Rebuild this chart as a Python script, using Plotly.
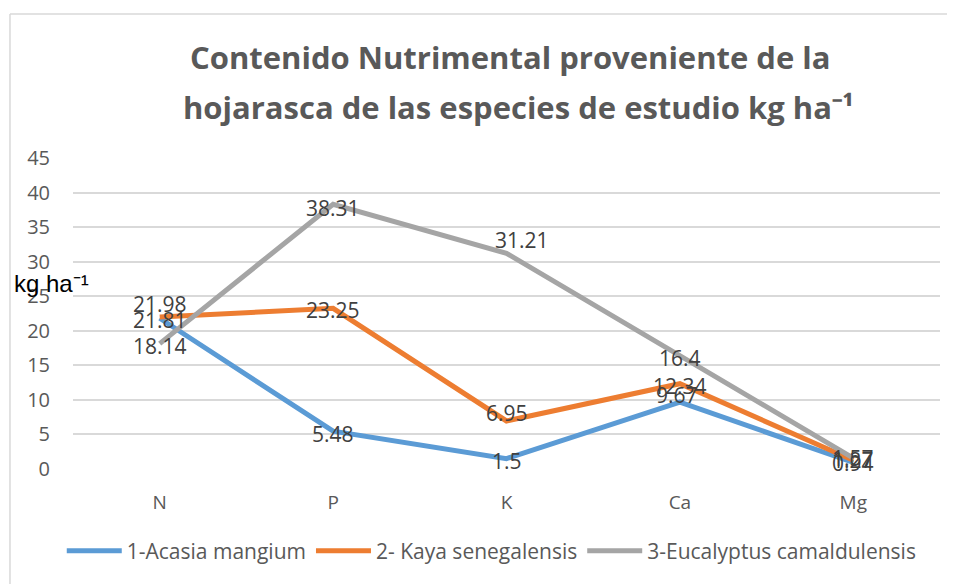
import plotly.graph_objects as go

categories = ["N", "P", "K", "Ca", "Mg"]
acasia = [21.81, 5.48, 1.5, 9.67, 0.94]
kaya = [21.98, 23.25, 6.95, 12.34, 1.27]
eucalyptus = [18.14, 38.31, 31.21, 16.4, 1.57]
series_names = ["1-Acasia mangium", "2- Kaya senegalensis", "3-Eucalyptus camaldulensis"]
y_ticks = [0, 5, 10, 15, 20, 25, 30, 35, 40, 45]
title_lines = ["Contenido Nutrimental proveniente de la",
               "hojarasca de las especies de estudio kg ha⁻¹"]
y_title = "kg ha⁻¹"

colors = ["#5B9BD5", "#ED7D31", "#A5A5A5"]
series = [acasia, kaya, eucalyptus]
# label pixel shifts (style only)
shifts = [
    [(0, -2), (0, -3), (0, -2), (-3, 7), (0, 0)],
    [(0, 13), (0, -2), (0, 8), (0, -2), (0, 0)],
    [(0, -2), (0, -4), (15, 13), (0, -2), (0, 0)],
]

FONT = "Open Sans"
fig = go.Figure()
for name, vals, c in zip(series_names, series, colors):
    fig.add_trace(go.Scatter(x=categories, y=vals, mode="lines", name=name,
                             line=dict(color=c, width=5), hoverinfo="skip"))

annotations = []
for vals, sh in zip(series, shifts):
    for cat, v, (dx, dy) in zip(categories, vals, sh):
        annotations.append(dict(x=cat, y=v, xref="x", yref="y", text=f"{v:g}",
                                showarrow=False, xshift=dx, yshift=dy,
                                font=dict(family=FONT, size=21, color="#404040")))

annotations.append(dict(x=-0.0704, y=0.598, xref="paper", yref="paper", xanchor="left",
                        yanchor="middle", text=y_title, showarrow=False,
                        font=dict(family="Liberation Sans", size=24, color="#000000")))
for txt, xp, yp in zip(title_lines, [0.505, 0.514], [1.325, 1.164]):
    annotations.append(dict(x=xp, y=yp, xref="paper", yref="paper", xanchor="center",
                            yanchor="middle", text=txt, showarrow=False,
                            font=dict(family=FONT, size=31, color="#595959", weight="bold")))

border = dict(color="#D9D9D9", width=1.5)
fig.update_layout(
    width=947, height=576,
    margin=dict(l=65, r=15, t=150, b=115),
    paper_bgcolor="white", plot_bgcolor="white",
    xaxis=dict(range=[-0.5, 4.5], showgrid=False, zeroline=False, showline=False,
               ticks="", tickfont=dict(family=FONT, size=19, color="#595959"),
               ticklabelstandoff=20),
    yaxis=dict(range=[0, 45], tickvals=y_ticks, showgrid=True, gridcolor="#D9D9D9",
               gridwidth=1.5, zeroline=False, showline=False, ticks="",
               tickfont=dict(family=FONT, size=20, color="#595959"),
               ticklabelstandoff=22),
    legend=dict(orientation="h", x=0.483, xanchor="center", y=-0.264, yanchor="middle",
                font=dict(family=FONT, size=21, color="#595959"), traceorder="normal",
                itemwidth=55),
    annotations=annotations,
    shapes=[
        dict(type="line", xref="paper", yref="paper", x0=-0.0727, x1=1.1,
             y0=1.463, y1=1.463, line=border, layer="below"),
        dict(type="line", xref="paper", yref="paper", x0=-0.0727, x1=-0.0727,
             y0=-0.5, y1=1.463, line=border, layer="below"),
    ],
)

fig.write_html("out.html")
